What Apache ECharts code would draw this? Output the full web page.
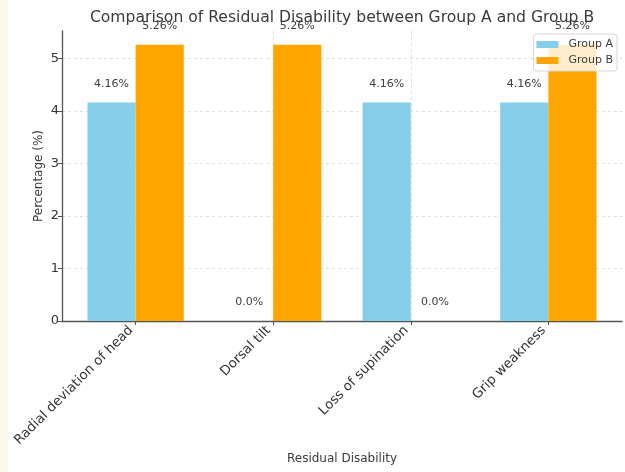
<!DOCTYPE html>
<html>
<head>
<meta charset="utf-8">
<script src="https://cdn.jsdelivr.net/npm/echarts@6/dist/echarts.min.js"></script>
<style>
  html, body { margin: 0; padding: 0; background: #ffffff; }
  #chart { width: 625px; height: 472px; }
</style>
</head>
<body>
<div id="chart"></div>
<script>
// Residual disability rates (%) per category for the two groups
const categories = ['Radial deviation of head', 'Dorsal tilt', 'Loss of supination', 'Grip weakness'];
const groupA = [4.16, 0, 4.16, 4.16];
const groupB = [5.26, 5.26, 0, 5.26];
const yTicks = [0, 1, 2, 3, 4, 5];

// Python-like number formatting: 0 -> "0.0", 4.16 -> "4.16"
function pyNum(v) {
  return Number.isInteger(v) ? v.toFixed(1) : String(v);
}

const FONT = 'DejaVu Sans';
const catIdx = categories.map((c, i) => i);
const yMax = Math.max(...groupA, ...groupB) * 1.05;
const gridLine = { color: '#d6d6d6', type: [3, 3], width: 0.8 };
const spine = { color: '#555555', width: 1.3 };

const chart = echarts.init(document.getElementById('chart'), null, { renderer: 'canvas' });

function seriesFor(name, values, color) {
  return {
    name: name,
    type: 'bar',
    data: values.map((v, i) => [i, v]),
    barWidth: '35%',
    barGap: '0%',
    itemStyle: { color: color },
    emphasis: { disabled: true },
    label: {
      show: true,
      position: 'top',
      distance: 13,
      formatter: p => pyNum(p.value[1]) + '%',
      fontFamily: FONT,
      fontSize: 11,
      color: '#3d3d3d'
    }
  };
}

chart.setOption({
  animation: false,
  backgroundColor: '#ffffff',
  graphic: [{
    type: 'rect',
    left: 0, top: 0,
    shape: { width: 8, height: 472 },
    style: { fill: '#fdf9ea' },
    z: 100
  }],
  title: {
    text: 'Comparison of Residual Disability between Group A and Group B',
    left: 337,
    textAlign: 'center',
    top: 5,
    textStyle: { fontFamily: FONT, fontSize: 15.6, fontWeight: 'normal', color: '#3a3a3a' }
  },
  legend: {
    data: ['Group A', 'Group B'],
    orient: 'vertical',
    right: 8,
    top: 34,
    itemWidth: 22,
    itemHeight: 7,
    itemGap: 5,
    padding: [5, 4, 5, 3],
    backgroundColor: 'rgba(255,255,255,0.8)',
    borderColor: '#d8d8d8',
    borderWidth: 1,
    borderRadius: 3,
    textStyle: { fontFamily: FONT, fontSize: 11, color: '#3d3d3d', padding: [0, 0, 0, 5] },
    icon: 'rect'
  },
  grid: { left: 62, right: 3, top: 31, bottom: 151, containLabel: false, outerBoundsMode: 'none' },
  xAxis: {
    type: 'value',
    min: -0.535,
    max: catIdx.length - 1 + 0.535,
    name: 'Residual Disability',
    nameLocation: 'middle',
    nameGap: 132,
    nameMoveOverlap: false,
    nameTextStyle: { fontFamily: FONT, fontSize: 12, color: '#3a3a3a' },
    axisLine: { show: true, onZero: false, lineStyle: spine },
    axisTick: { show: true, customValues: catIdx, length: 4, lineStyle: { color: '#555555' } },
    axisLabel: {
      customValues: catIdx,
      formatter: v => categories[Math.round(v)] || '',
      rotate: 45,
      margin: 12,
      verticalAlign: 'bottom',
      fontFamily: FONT,
      fontSize: 13.3,
      color: '#333333'
    },
    splitLine: { show: true, showMinLine: false, showMaxLine: false, lineStyle: gridLine }
  },
  yAxis: {
    type: 'value',
    min: 0,
    max: yMax,
    interval: 1,
    name: 'Percentage (%)',
    nameLocation: 'middle',
    nameGap: 17,
    nameMoveOverlap: false,
    nameTextStyle: { fontFamily: FONT, fontSize: 12, color: '#3a3a3a' },
    axisLine: { show: true, onZero: false, lineStyle: spine },
    axisTick: { show: true, length: 4, lineStyle: { color: '#555555' } },
    axisLabel: {
      showMaxLabel: false,
      formatter: v => (yTicks.indexOf(v) >= 0 ? String(v) : ''),
      margin: 3,
      fontFamily: FONT,
      fontSize: 13,
      color: '#333333'
    },
    splitLine: { show: true, showMaxLine: false, lineStyle: gridLine }
  },
  series: [
    seriesFor('Group A', groupA, '#87ceeb'),
    seriesFor('Group B', groupB, '#ffa500')
  ]
});
</script>
</body>
</html>
